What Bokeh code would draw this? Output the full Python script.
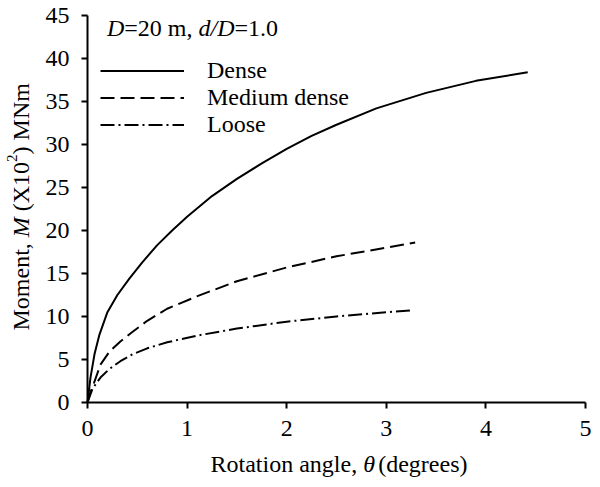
import math
from bokeh.plotting import figure
from bokeh.models import Range1d, FixedTicker, Label, Legend, LegendItem
from bokeh.embed import file_html
from bokeh.resources import INLINE

# ---- data ----
dense_x = [0, 0.03, 0.07, 0.12, 0.2, 0.3, 0.42, 0.55, 0.7, 0.85, 1.0, 1.25, 1.5, 1.75,
           2.0, 2.25, 2.5, 2.9, 3.4, 3.9, 4.42]
dense_y = [0, 2.9, 5.6, 7.9, 10.5, 12.5, 14.4, 16.3, 18.3, 20.0, 21.6, 24.0, 26.0, 27.8,
           29.5, 31.0, 32.3, 34.2, 36.0, 37.4, 38.4]

medium_x = [0, 0.03, 0.06, 0.13, 0.22, 0.33, 0.45, 0.6, 0.8, 1.11, 1.5, 2.0, 2.5, 3.0, 3.29]
medium_y = [0, 1.2, 2.1, 4.4, 5.9, 7.1, 8.2, 9.5, 10.9, 12.4, 14.1, 15.7, 17.0, 18.0, 18.6]

loose_x = [0, 0.05, 0.13, 0.22, 0.33, 0.45, 0.6, 0.8, 1.11, 1.5, 2.0, 2.5, 3.0, 3.24]
loose_y = [0, 1.6, 2.9, 3.9, 4.8, 5.6, 6.3, 7.0, 7.8, 8.6, 9.4, 10.0, 10.5, 10.7]

x_ticks = [0, 1, 2, 3, 4, 5]
y_ticks = [0, 5, 10, 15, 20, 25, 30, 35, 40, 45]
series_labels = ["Dense", "Medium dense", "Loose"]

FONT = "Liberation Serif"
W, H = 592, 479

# pixel anchors of the axes inside the canvas (layout)
PX_X0, PX_X5 = 87, 585
PX_Y0, PX_Y45 = 402, 15
sx_per = (PX_X5 - PX_X0) / 5.0
sy_per = (PX_Y0 - PX_Y45) / 45.0
x_start = -PX_X0 / sx_per
x_end = 5 + (W - PX_X5) / sx_per
y_end = 45 + PX_Y45 / sy_per
y_start = -(H - PX_Y0) / sy_per

p = figure(width=W, height=H, output_backend="svg", toolbar_location=None,
           x_range=Range1d(x_start, x_end), y_range=Range1d(y_start, y_end),
           min_border_left=0, min_border_right=0, min_border_top=0, min_border_bottom=0)
p.title.visible = False
p.outline_line_color = None
p.grid.visible = False
p.background_fill_color = "white"
p.border_fill_color = "white"

p.xaxis.ticker = FixedTicker(ticks=x_ticks)
p.yaxis.ticker = FixedTicker(ticks=y_ticks)
p.xaxis.fixed_location = 0
p.yaxis.fixed_location = 0
p.xaxis.bounds = (0, 5)
p.yaxis.bounds = (0, 45)
for ax in (p.xaxis, p.yaxis):
    ax.axis_line_width = 2
    ax.axis_line_color = "black"
    ax.major_tick_line_width = 2
    ax.major_tick_line_color = "black"
    ax.major_tick_out = 6
    ax.major_tick_in = 0
    ax.minor_tick_out = 0
    ax.minor_tick_in = 0
    ax.major_label_text_font = FONT
    ax.major_label_text_font_size = "24px"
    ax.major_label_text_color = "black"
p.xaxis.major_label_standoff = 12
p.yaxis.major_label_standoff = 12

r1 = p.line(dense_x, dense_y, line_color="black", line_width=2)
r2 = p.line(medium_x, medium_y, line_color="black", line_width=2, line_dash="14 6")
r3 = p.line(loose_x, loose_y, line_color="black", line_width=2, line_dash="14 4 2 4")

legend = Legend(items=[LegendItem(label=series_labels[0], renderers=[r1]),
                       LegendItem(label=series_labels[1], renderers=[r2]),
                       LegendItem(label=series_labels[2], renderers=[r3])],
                location=(100, 341), padding=0, margin=0, spacing=0,
                glyph_width=84, glyph_height=27, label_height=27, label_standoff=23,
                label_text_font=FONT, label_text_font_size="24px",
                label_text_color="black",
                border_line_color=None, background_fill_alpha=0)
p.add_layout(legend, "center")

# canvas-pixel -> data helpers for text placement
def dx(cx):
    return (cx - PX_X0) / sx_per

def dy(cy):
    return (PX_Y0 - cy) / sy_per

def put(text, cx, cy, size="24px", style="normal", angle=0):
    p.add_layout(Label(x=dx(cx), y=dy(cy), text=text, text_font=FONT,
                       text_font_size=size, text_font_style=style,
                       text_color="black", text_baseline="alphabetic",
                       text_align="left", angle=angle))

# annotation D=20 m, d/D=1.0
cx, cy = 106.5, 27
put("D", cx, cy, style="italic"); cx += 17.3
put("=20 m, ", cx, cy); cx += 74.2
put("d/D", cx, cy, style="italic"); cx += 36.0
put("=1.0", cx, cy)

# x axis label
cx, cy = 210, 463
put("Rotation angle, ", cx, cy); cx += 152.7
put("\u03b8", cx, cy, style="italic"); cx += 15
put("(degrees)", cx, cy)

# y axis label (rotated, reading upwards)
a = math.pi / 2
bx = 20
cy = 330
put("Moment, ", bx, cy, angle=a); cy -= 93.3
put("M", bx, cy, style="italic", angle=a); cy -= 26.0
put("(X10", bx, cy, angle=a); cy -= 49.3
put("2", bx - 9, cy, size="15px", angle=a); cy -= 7.5
put(") MNm", bx, cy, angle=a)

open("out.html", "w").write(file_html(p, INLINE))
